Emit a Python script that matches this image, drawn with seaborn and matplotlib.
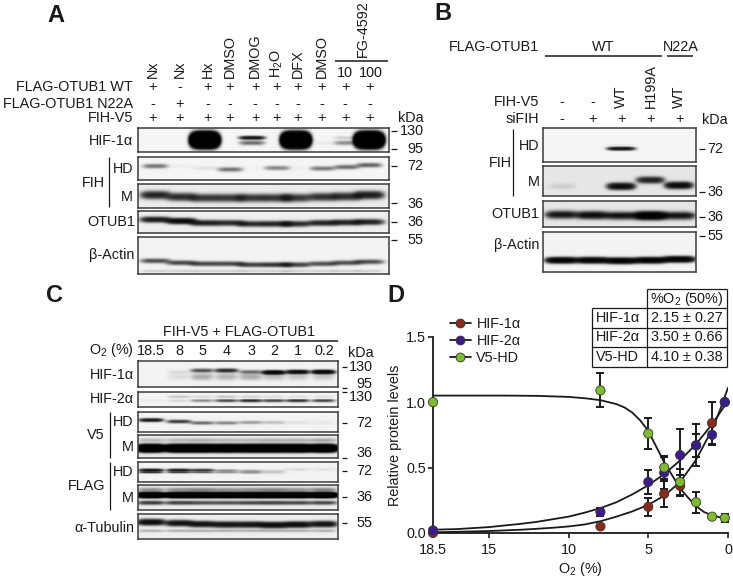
import numpy as np
import pandas as pd
import matplotlib
matplotlib.use("Agg")
import matplotlib.pyplot as plt
from matplotlib.lines import Line2D
import seaborn as sns

W, H = 733, 578
sns.set_theme(style="ticks")
plt.rcParams["font.family"] = ["Liberation Sans", "DejaVu Sans"]
plt.rcParams["mathtext.default"] = "regular"
FS = 10.4

# ---------- Panel D data ----------
SERIES = ["HIF-1α", "HIF-2α", "V5-HD"]
O2 = [18.5, 8, 5, 4, 3, 2, 1, 0.2]
HIF1_MEAN = [0.00, 0.05, 0.20, 0.30, 0.36, 0.67, 0.84, 1.00]
HIF1_ERR = [0.00, 0.00, 0.07, 0.10, 0.08, 0.09, 0.16, 0.00]
HIF2_MEAN = [0.02, 0.16, 0.39, 0.46, 0.595, 0.67, 0.75, 1.00]
HIF2_ERR = [0.00, 0.03, 0.09, 0.12, 0.20, 0.16, 0.08, 0.00]
V5_MEAN = [1.00, 1.09, 0.76, 0.50, 0.39, 0.235, 0.125, 0.115]
V5_ERR = [0.00, 0.13, 0.12, 0.09, 0.10, 0.08, 0.00, 0.03]

HIF1_FIT_X = [18.5, 15, 13, 12, 11, 10, 9, 8, 7, 6, 5, 4, 3, 2, 1, 0.5, 0]
HIF1_FIT_Y = [0.005, 0.015, 0.025, 0.032, 0.04, 0.05, 0.065, 0.09, 0.125, 0.165, 0.215, 0.285, 0.39, 0.56, 0.79, 0.94, 1.11]
HIF2_FIT_X = [18.5, 17, 15, 13, 12, 11, 10, 9, 8, 7, 6, 5, 4, 3, 2, 1, 0.5, 0]
HIF2_FIT_Y = [0.025, 0.03, 0.045, 0.07, 0.085, 0.105, 0.125, 0.155, 0.19, 0.235, 0.295, 0.365, 0.45, 0.555, 0.68, 0.83, 0.92, 1.01]
V5_FIT_X = [18.5, 16, 14, 12, 10, 9, 8, 7, 6.5, 6, 5.5, 5, 4.5, 4, 3.5, 3, 2.5, 2, 1.5, 1, 0.5, 0]
V5_FIT_Y = [1.05, 1.05, 1.05, 1.048, 1.04, 1.03, 1.015, 0.985, 0.96, 0.92, 0.86, 0.78, 0.66, 0.54, 0.44, 0.34, 0.27, 0.205, 0.16, 0.135, 0.12, 0.115]

TABLE_HEADER = "%O$_2$ (50%)"
TABLE_VALUES = ["2.15 ± 0.27", "3.50 ± 0.66", "4.10 ± 0.38"]

# ---------- Blot band intensities (per lane) ----------
A_LANES = ["Nx", "Nx", "Hx", "DMSO", "DMOG", "H$_2$O", "DFX", "DMSO", "10", "100"]
A_WT = ["+", "-", "+", "+", "+", "+", "+", "+", "+", "+"]
A_N22A = ["-", "+", "-", "-", "-", "-", "-", "-", "-", "-"]
A_V5 = ["+"] * 10
A_HIF1 = [0, 0, 40, 0, 0, 0, 40, 0, 0, 40]
A_HIF1_UP = [0, 0, 0, 0, 2.4, 0, 0, 0, 0.18, 0]
A_HIF1_LOW = [0, 0, 0, 0, 0.8, 0, 0, 0.04, 0.55, 0]
A_HD = [0.75, 0.03, 0.08, 0.75, 0.02, 0.6, 0.03, 0.7, 0.8, 0.9]
A_M = [1.9, 1.7, 1.5, 1.5, 1.5, 1.5, 1.5, 1.6, 1.7, 2.1]
A_OTUB1 = [2.2, 3.0, 2.0, 1.7, 1.7, 1.8, 1.7, 1.9, 1.9, 1.9]
A_ACTIN = [1.1, 1.2, 1.2, 1.2, 1.3, 1.5, 1.3, 1.1, 1.1, 1.1]

B_WT_LABEL, B_MUT_LABEL = "WT", "N22A"
B_V5 = ["-", "-", "WT", "H199A", "WT"]
B_SI = ["-", "+", "+", "+", "+"]
B_HD = [0, 0, 2.5, 0, 0]
B_M = [0.12, 0, 3.0, 2.0, 3.0]
B_OTUB1 = [2.5, 3.0, 2.5, 6.0, 2.5]
B_ACTIN = [4.0, 4.0, 4.0, 4.0, 4.0]

C_LANES = ["18.5", "8", "5", "4", "3", "2", "1", "0.2"]
C_HIF1 = [0, 0.1, 1.1, 1.7, 0.8, 3.5, 3.0, 3.5]
C_HIF1_SMEAR = [0, 0.1, 0.35, 0.3, 0.35, 0.25, 0.2, 0.2]
C_HIF2 = [0.04, 0.12, 0.55, 1.1, 1.6, 1.2, 1.5, 1.2]
C_HIF2_UP = [0, 0.2, 0.12, 0.2, 0.15, 0.1, 0.08, 0.08]
C_V5_HD = [2.2, 1.4, 0.8, 0.6, 0.45, 0.25, 0.08, 0.05]
C_V5_M = [14, 14, 14, 14, 14, 14, 14, 14]
C_V5_M_UP = [0.25, 0.25, 0.3, 0.25, 0.25, 0.3, 0.3, 0.35]
C_FLAG_HD = [2.6, 2.2, 1.5, 0.6, 0.5, 0.2, 0.1, 0.07]
C_FLAG_M = [13, 13, 13, 13, 13, 13, 13, 13]
C_FLAG_M_UP = [0.5, 0.5, 0.6, 0.5, 0.5, 0.6, 0.5, 0.6]
C_FLAG_M2 = [1.4, 1.3, 1.1, 1.1, 1.2, 1.3, 1.2, 1.2]
C_TUB = [3.0, 2.6, 2.6, 2.6, 2.6, 3.0, 3.0, 2.6]
C_TUB2 = [0.3, 0.3, 0.3, 0.3, 0.3, 0.3, 0.3, 0.3]

# ---------- layout ----------
A_X = [152.7, 180, 207.7, 230, 255, 276.7, 298, 321.7, 345, 370]
A_BAND_X = [155, 181, 204.6, 230, 252, 277, 296, 323, 347, 369.6]
B_X = [561.7, 592.3, 621.3, 650.7, 679.3]
C_X = [151, 179, 202.3, 226.7, 251, 274.3, 298.3, 324]

fig = plt.figure(figsize=(W / 100, H / 100), dpi=100, facecolor="white")


def px_axes(x0, y0, x1, y1, **kw):
    return fig.add_axes([x0 / W, 1 - y1 / H, (x1 - x0) / W, (y1 - y0) / H], **kw)


def blot(box, xs, layers, bg=0.96, half=11.0):
    """box in pixels; layers: (intensities, y offset or per-lane offsets, sigma y)."""
    x0, y0, x1, y1 = box
    nx, ny = int(round(x1 - x0)), int(round(y1 - y0))
    gx = np.linspace(x0, x1, nx)[None, :]
    gy = np.linspace(y0, y1, ny)[:, None]
    od = np.zeros((ny, nx))
    for vals, off, sy in layers:
        offs = off if np.ndim(off) else [off] * len(vals)
        for xc, v, o in zip(xs, vals, offs):
            if v > 0:
                od += v * np.exp(-((gx - xc) / half) ** 4) * np.exp(-((gy - y0 - o) / sy) ** 2)
    img = bg * np.exp(-od)
    ax = px_axes(x0, y0, x1, y1)
    sns.heatmap(img, ax=ax, cmap="gray", vmin=0, vmax=1, cbar=False,
                xticklabels=False, yticklabels=False)
    for sp in ax.spines.values():
        sp.set_visible(True)
        sp.set_color("#3a3a3a")
        sp.set_linewidth(1.1)
    return ax


# Panel A blots
blot((138, 128, 389, 152), A_BAND_X, [(A_HIF1, 12, 5.2), (A_HIF1_UP, 9.7, 1.7), (A_HIF1_LOW, 15, 2.2)], half=12)
blot((138, 157, 389, 180), A_BAND_X, [(A_HD, [9, 9, 11, 12.5, 11, 11, 11, 11.5, 10, 8], 2.2)], half=12)
blot((138, 184, 389, 208), A_BAND_X, [(A_M, [11, 13, 14, 14, 14, 14, 14, 13, 12.5, 11], 3.6)], bg=0.92, half=14)
blot((138, 211, 389, 233), A_BAND_X, [(A_OTUB1, [8.5, 10, 12, 12, 13, 13, 13, 12, 11.5, 11], 2.6)], bg=0.93, half=14)
blot((138, 237, 389, 274), A_BAND_X, [(A_ACTIN, [24, 26, 27, 27, 28, 28, 28, 27, 26, 25], 2.2), ([0.15] * 10, 34.5, 1.5)], bg=0.95, half=14)

# Panel B blots
blot((543.3, 128.3, 696, 161.7), B_X, [(B_HD, 20, 1.7)], half=13)
blot((543.3, 166, 696, 196), B_X, [(B_M, [20.5, 20, 20.5, 14, 19.5], 3.0)], bg=0.9, half=13)
blot((543.3, 200.7, 696, 227.3), B_X, [(B_OTUB1, [14, 14.5, 15, 15, 15], 3.6)], bg=0.9, half=15)
blot((543.3, 231.7, 696, 271.7), B_X, [(B_ACTIN, [28.5, 28.5, 29, 28.5, 27.5], 2.6)], bg=0.95, half=15)

# Panel C blots
blot((138.3, 361, 338.3, 387.3), C_X, [(C_HIF1, [11, 11, 9.5, 9.5, 11, 11.5, 11, 11], 1.9), (C_HIF1_SMEAR, 16, 3.5)], bg=0.95, half=11)
blot((138.3, 391.7, 338.3, 407.3), C_X, [(C_HIF2, 9.5, 1.5), (C_HIF2_UP, 4.5, 1.5)], bg=0.95, half=11)
blot((138.3, 411.7, 338.3, 431.7), C_X, [(C_V5_HD, [8, 9.5, 11, 11, 10.5, 10.5, 10.5, 10.5], 1.7)], bg=0.95, half=11.5)
blot((138.3, 435, 338.3, 458.3), C_X, [(C_V5_M, 13.5, 2.9), (C_V5_M_UP, 5, 2.0)], bg=0.92, half=13)
blot((138.3, 462.3, 338.3, 481.7), C_X, [(C_FLAG_HD, [8.5, 8.5, 8.5, 9, 9.5, 9.5, 7.5, 7.5], 1.6)], bg=0.95, half=11.5)
blot((138.3, 485, 338.3, 510), C_X, [(C_FLAG_M, 10, 2.1), (C_FLAG_M_UP, 4.5, 2.2), (C_FLAG_M2, 18, 1.9)], bg=0.92, half=13)
blot((138.3, 514.3, 338.3, 539.3), C_X, [(C_TUB, [8, 9, 10, 10.5, 10.5, 11, 10.5, 10], 2.7), (C_TUB2, 17, 1.4)], bg=0.93, half=13)

# ---------- Panel D chart ----------
COLORS = dict(zip(SERIES, ["#8a2a1c", "#3d1a8e", "#7ebb2f"]))
ax = px_axes(433, 336.7, 728, 533)
fits = pd.concat([
    pd.DataFrame({"o2": HIF1_FIT_X, "level": HIF1_FIT_Y, "series": SERIES[0]}),
    pd.DataFrame({"o2": HIF2_FIT_X, "level": HIF2_FIT_Y, "series": SERIES[1]}),
    pd.DataFrame({"o2": V5_FIT_X, "level": V5_FIT_Y, "series": SERIES[2]}),
])
pts = pd.concat([
    pd.DataFrame({"o2": O2, "level": HIF1_MEAN, "err": HIF1_ERR, "series": SERIES[0]}),
    pd.DataFrame({"o2": O2, "level": HIF2_MEAN, "err": HIF2_ERR, "series": SERIES[1]}),
    pd.DataFrame({"o2": O2, "level": V5_MEAN, "err": V5_ERR, "series": SERIES[2]}),
])
sns.lineplot(data=fits, x="o2", y="level", hue="series", palette=["#1a1a1a"] * 3,
             estimator=None, legend=False, ax=ax, linewidth=1.3, zorder=2)
with_err = pts[pts["err"] > 0]
ax.errorbar(with_err["o2"], with_err["level"], yerr=with_err["err"], fmt="none",
            ecolor="#1a1a1a", elinewidth=1.4, capsize=3.2, capthick=1.4, zorder=3)
sns.scatterplot(data=pts, x="o2", y="level", hue="series", palette=COLORS, s=44,
                edgecolor="#333333", linewidth=0.6, legend=False, ax=ax, zorder=4, clip_on=False)
ax.set_xlim(18.5, 0)
ax.set_ylim(0, 1.5)
ax.set_xticks([18.5, 15, 10, 5, 0], ["18.5", "15", "10", "5", "0"])
ax.set_yticks([0, 0.5, 1.0, 1.5], ["0.0", "0.5", "1.0", "1.5"])
ax.tick_params(labelsize=FS, length=3.6, width=1.2, color="#1a1a1a", labelcolor="#1a1a1a", pad=1.5)
ax.tick_params(axis="x", pad=3.5)
ax.set_xlabel("O$_2$ (%)", fontsize=FS, labelpad=2, color="#1a1a1a")
ax.set_ylabel("Relative protein levels", fontsize=FS, labelpad=2.5, color="#1a1a1a")
ax.patch.set_alpha(0)
for side in ["top", "right"]:
    ax.spines[side].set_visible(False)
for side in ["left", "bottom"]:
    ax.spines[side].set_linewidth(1.3)
    ax.spines[side].set_color("#1a1a1a")
handles = [Line2D([], [], color="#1a1a1a", lw=1.3, marker="o", ms=6.4, mfc=COLORS[s],
                  mec="#333333", mew=0.6) for s in SERIES]
ax.legend(handles, SERIES, loc="center left", bbox_to_anchor=(450 / W, 1 - 341 / H),
          bbox_transform=fig.transFigure, frameon=False, fontsize=FS, borderpad=0,
          borderaxespad=0, handlelength=1.43, handletextpad=0.4, labelspacing=0.2,
          labelcolor="#1a1a1a")

# ---------- overlay for annotations ----------
ov = fig.add_axes([0, 0, 1, 1], zorder=10)
ov.set_xlim(0, W)
ov.set_ylim(H, 0)
ov.axis("off")
INK = "#1a1a1a"


def T(x, y, s, ha="right", va="center", rot=0, fs=FS, **kw):
    ov.text(x, y, s, ha=ha, va=va, rotation=rot, fontsize=fs, color=INK,
            rotation_mode="anchor" if rot else "default", **kw)


def L(x0, y0, x1, y1, lw=0.9):
    ov.plot([x0, x1], [y0, y1], color=INK, lw=lw, solid_capstyle="butt")


# panel letters
for lx, ly, s in [(47, 15, "A"), (434, 14, "B"), (46, 295, "C"), (387, 295, "D")]:
    T(lx, ly, s, ha="left", fs=17, fontweight="bold")

# Panel A text
for x, s in zip(A_X[:8], A_LANES[:8]):
    ov.text(x, 78, s, rotation=90, ha="center", va="bottom", fontsize=FS, color=INK)
T(345, 72.7, A_LANES[8], ha="center")
T(371, 72.7, A_LANES[9], ha="center")
ov.text(363.3, 57, "FG-4592", rotation=90, ha="center", va="bottom", fontsize=FS, color=INK)
L(335, 61, 388, 61, 1.1)
for yy, name, row in [(87, "FLAG-OTUB1 WT", A_WT), (103.7, "FLAG-OTUB1 N22A", A_N22A), (117.7, "FIH-V5", A_V5)]:
    T(133, yy, name)
    for x, s in zip(A_X, row):
        T(x, yy, s, ha="center")
for yy, s in [(141, "HIF-1α"), (169, "HD"), (196.7, "M")]:
    T(133, yy, s)
T(105, 183, "FIH")
T(135, 222, "OTUB1")
T(134, 255, "β-Actin")
L(109, 157, 109, 206.7)
T(411, 118, "kDa", ha="center")
for ty, s, tx in [(131, "130", 400), (149, "95", 407), (165.7, "72", 407), (203, "36", 407), (221.7, "36", 407), (240, "55", 407)]:
    L(391, ty, 397, ty)
    T(tx, ty + (1 if s == "36" and ty < 210 else 0), s, ha="left")

# Panel B text
T(539.3, 46.7, "FLAG-OTUB1")
T(603, 46.7, B_WT_LABEL, ha="center")
T(680.7, 46.7, B_MUT_LABEL, ha="center")
L(545, 55.7, 661.7, 55.7, 1.1)
L(667, 55.7, 693, 55.7, 1.1)
T(539.3, 102.3, "FIH-V5")
T(539.3, 119.3, "siFIH")
for x, v, si in zip(B_X, B_V5, B_SI):
    if v == "-":
        T(x, 102, v, ha="center")
    else:
        ov.text(x, 108, v, rotation=90, ha="center", va="bottom", fontsize=FS, color=INK)
    T(x, 119, si, ha="center")
T(715, 120, "kDa", ha="center")
T(539.3, 145.7, "HD")
T(539.3, 181.7, "M")
T(511.7, 163.3, "FIH")
T(539.3, 214, "OTUB1")
T(539.3, 245, "β-Actin")
L(513.3, 129.3, 513.3, 196)
for ty, s in [(149, "72"), (192.3, "36"), (217.3, "36"), (236, "55")]:
    L(699, ty, 705, ty)
    T(707, ty, s, ha="left")

# Panel C text
T(239, 332.3, "FIH-V5 + FLAG-OTUB1", ha="center")
L(138.3, 340.7, 338.3, 340.7, 1.1)
T(134, 350, "O$_2$ (%)")
for x, s in zip(C_X, C_LANES):
    T(x, 350.7, s, ha="center")
T(361, 353.3, "kDa", ha="center")
for yy, s in [(375, "HIF-1α"), (399.3, "HIF-2α"), (422.3, "HD"), (446.7, "M"), (471.7, "HD"), (498.3, "M"), (527.7, "α-Tubulin")]:
    T(134, yy, s)
T(105, 435, "V5")
T(105, 486, "FLAG")
L(110, 411.7, 110, 457.7)
L(110, 462.3, 110, 510)
for ty in [366.7, 388, 391.5, 422.7, 457.7, 470.7, 496.7, 523.3]:
    L(342, ty, 347, ty)
for ty, s, tx in [(366.7, "130", 349), (384, "95", 356), (396.7, "130", 349), (422.7, "72", 356.7),
                  (453, "36", 356.7), (470.7, "72", 356.7), (496.7, "36", 356.7), (523.3, "55", 356.7)]:
    T(tx, ty, s, ha="left")

# Panel D table
TX0, TX1, TX2 = 591.7, 647.3, 726.7
TY = [289, 308.3, 327.7, 347, 366.7]
L(TX1, TY[0], TX2, TY[0])
L(TX0, TY[1], TX2, TY[1])
L(TX0, TY[2], TX2, TY[2])
L(TX0, TY[3], TX2, TY[3])
L(TX0, TY[4], TX2, TY[4])
L(TX0, TY[1], TX0, TY[4])
L(TX1, TY[0], TX1, TY[4])
L(TX2, TY[0], TX2, TY[4])
T((TX1 + TX2) / 2, (TY[0] + TY[1]) / 2, TABLE_HEADER, ha="center")
for i, (s, v) in enumerate(zip(SERIES, TABLE_VALUES)):
    yy = (TY[i + 1] + TY[i + 2]) / 2
    T(596, yy, s, ha="left")
    T((TX1 + TX2) / 2, yy, v, ha="center")

fig.savefig("out.png", dpi=100)
